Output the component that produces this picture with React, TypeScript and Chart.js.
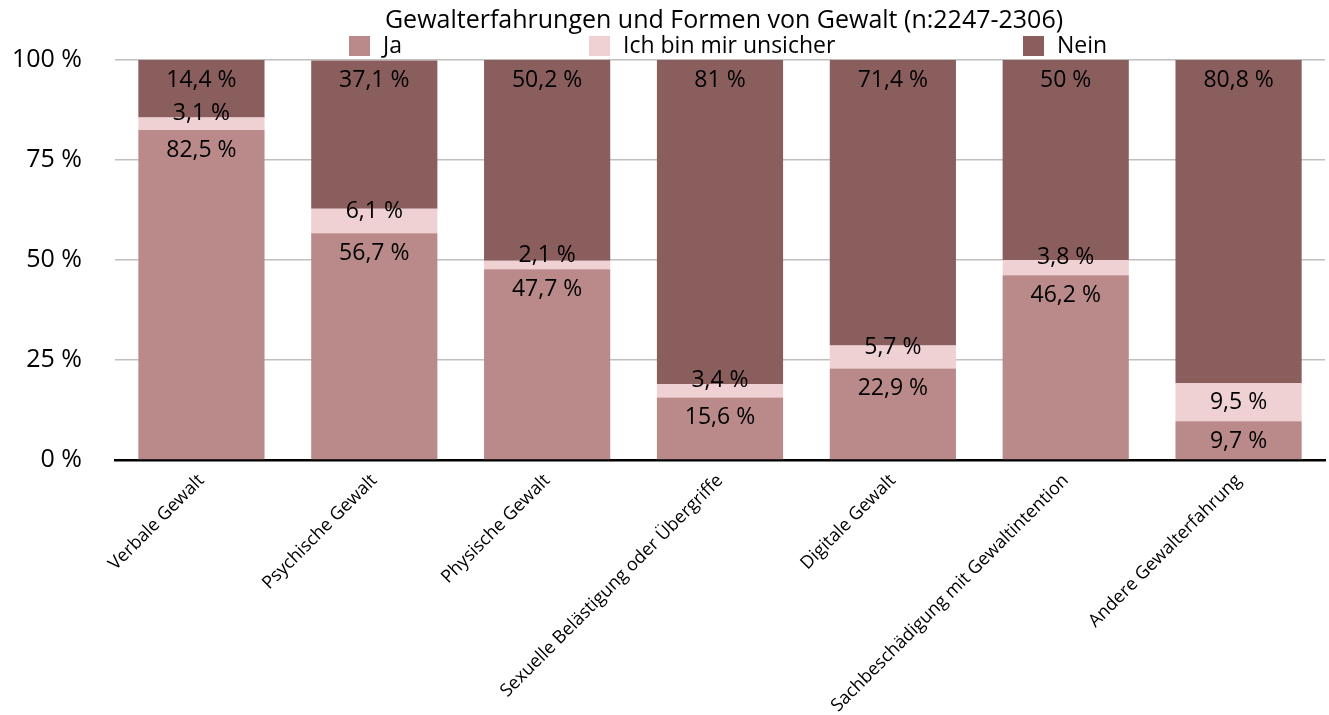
import React, { useEffect, useRef } from "react";
import { Chart, registerables } from "chart.js";

Chart.register(...registerables);

const TITLE = "Gewalterfahrungen und Formen von Gewalt (n:2247-2306)";
const categories = [
  "Verbale Gewalt",
  "Psychische Gewalt",
  "Physische Gewalt",
  "Sexuelle Belästigung oder Übergriffe",
  "Digitale Gewalt",
  "Sachbeschädigung mit Gewaltintention",
  "Andere Gewalterfahrung",
];
const seriesNames = ["Ja", "Ich bin mir unsicher", "Nein"];
const jaValues = [82.5, 56.7, 47.7, 15.6, 22.9, 46.2, 9.7];
const unsureValues = [3.1, 6.1, 2.1, 3.4, 5.7, 3.8, 9.5];
const neinValues = [14.4, 37.1, 50.2, 81, 71.4, 50, 80.8];
const yTicks = [0, 25, 50, 75, 100];
const colors = ["#b98a89", "#efd0d3", "#8b5e5e"];

const FONT = "'Open Sans', sans-serif";

const fmt = (v: number) => String(v).replace(".", ",") + " %";

const labelPlugin = {
  id: "segLabels",
  afterDatasetsDraw(chart: any) {
    const ctx = chart.ctx;
    ctx.save();
    ctx.font = `23px ${FONT}`;
    ctx.fillStyle = "#000";
    ctx.textAlign = "center";
    ctx.textBaseline = "middle";
    chart.data.datasets.forEach((ds: any, di: number) => {
      const meta = chart.getDatasetMeta(di);
      meta.data.forEach((el: any, i: number) => {
        const v = ds.data[i];
        const top = Math.min(el.y, el.base);
        const bottom = Math.max(el.y, el.base);
        const h = bottom - top;
        let y;
        if (di === 1) {
          y = (top + bottom) / 2 + (h < 30 ? -10 : 0);
        } else {
          y = top + 20;
        }
        ctx.fillText(fmt(v), el.x, y);
      });
    });
    ctx.restore();
  },
};

const legendPlugin = {
  id: "customLegend",
  afterDraw(chart: any) {
    const ctx = chart.ctx;
    ctx.save();
    ctx.font = `25px ${FONT}`;
    ctx.fillStyle = "#000";
    ctx.textAlign = "center";
    ctx.textBaseline = "middle";
    ctx.fillText(TITLE, 724, 21);
    const xs = [349, 589, 1023];
    ctx.font = `23px ${FONT}`;
    ctx.textAlign = "left";
    seriesNames.forEach((name, i) => {
      ctx.fillStyle = colors[i];
      ctx.fillRect(xs[i], 36, 21, 20);
      ctx.fillStyle = "#000";
      ctx.fillText(name, xs[i] + 34, 46);
    });
    ctx.restore();
  },
};

export default function App() {
  const ref = useRef<HTMLCanvasElement>(null);
  useEffect(() => {
    document.body.style.margin = "0";
    const chart = new Chart(ref.current!, {
      type: "bar",
      data: {
        labels: categories,
        datasets: [
          { label: seriesNames[0], data: jaValues, backgroundColor: colors[0] },
          { label: seriesNames[1], data: unsureValues, backgroundColor: colors[1] },
          { label: seriesNames[2], data: neinValues, backgroundColor: colors[2] },
        ],
      },
      options: {
        animation: false,
        responsive: true,
        maintainAspectRatio: false,
        layout: { padding: { top: 60, right: 4, left: 0, bottom: 0 } },
        datasets: { bar: { categoryPercentage: 1, barPercentage: 0.73 } },
        plugins: { legend: { display: false }, title: { display: false }, tooltip: { enabled: false } },
        scales: {
          x: {
            stacked: true,
            grid: { display: false },
            border: { display: true, color: "#000", width: 2.5 },
            ticks: {
              minRotation: 45,
              maxRotation: 45,
              font: { family: FONT, size: 18 },
              color: "#000",
              padding: 2,
            },
            afterFit: (s: any) => { s.height = 255; },
          },
          y: {
            stacked: true,
            min: 0,
            max: 100,
            afterBuildTicks: (s: any) => { s.ticks = yTicks.map((v) => ({ value: v })); },
            grid: {
              drawTicks: false,
              color: (c: any) => (c.tick && c.tick.value === 0 ? "rgba(0,0,0,0)" : "#bfbfbf"),
              lineWidth: 1.5,
            },
            border: { display: false },
            ticks: {
              padding: 33,
              font: { family: FONT, size: 25 },
              color: "#000",
              callback: (v: any) => v + " %",
            },
            afterFit: (s: any) => { s.width = 115; },
          },
        },
      },
      plugins: [labelPlugin, legendPlugin],
    });
    return () => chart.destroy();
  }, []);
  return (
    <div style={{ width: 1329, height: 715, position: "relative" }}>
      <canvas ref={ref} />
    </div>
  );
}
